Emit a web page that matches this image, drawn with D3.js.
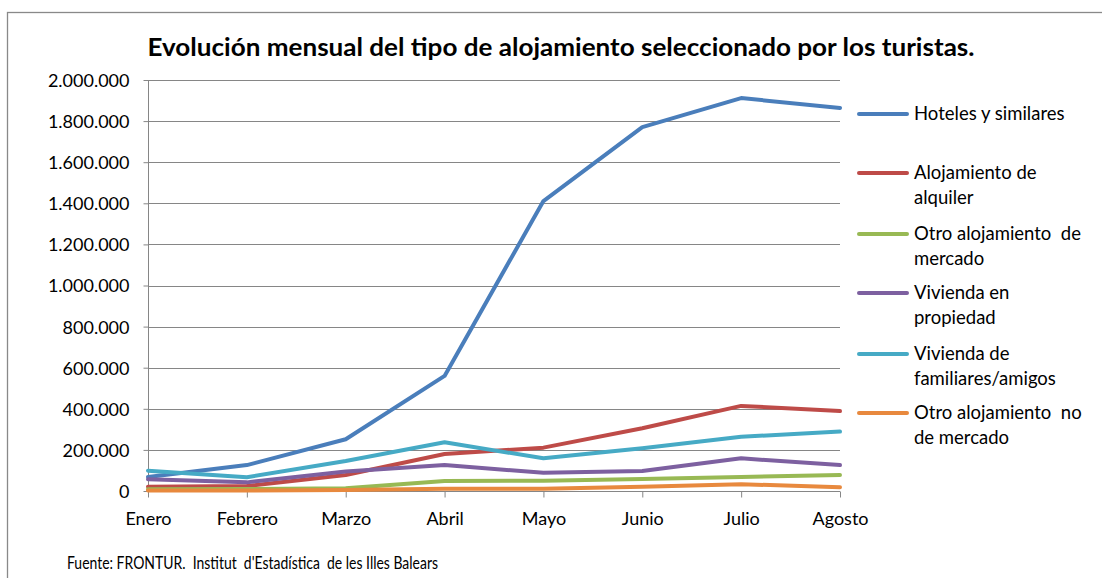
<!DOCTYPE html>
<html><head><meta charset="utf-8">
<script src="https://cdn.jsdelivr.net/npm/d3@7"></script>
<style>body{margin:0;background:#fff}svg{display:block}text{font-family:Lato,"Open Sans",sans-serif;fill:#000}</style>
</head><body><svg id="c" width="1102" height="578"></svg>
<script>
const months = ["Enero","Febrero","Marzo","Abril","Mayo","Junio","Julio","Agosto"];
const seriesNames = ["Hoteles y similares","Alojamiento de alquiler","Otro alojamiento  de mercado","Vivienda en propiedad","Vivienda de familiares/amigos","Otro alojamiento  no de mercado"];
const legendLines = [["Hoteles y similares"],["Alojamiento de","alquiler"],["Otro alojamiento  de","mercado"],["Vivienda en","propiedad"],["Vivienda de","familiares/amigos"],["Otro alojamiento  no","de mercado"]];
const hoteles   = [68000,126000,252000,560000,1411000,1771000,1912000,1864000];
const alquiler  = [21000,24000,78000,180000,211000,305000,414000,389000];
const otroMerc  = [8000,10000,13000,49000,50000,58000,68000,78000];
const propiedad = [57000,42000,95000,126000,89000,97000,159000,126000];
const familiares= [99000,67000,146000,237000,159000,208000,264000,289000];
const otroNoMerc= [2000,2000,5000,11000,11000,21000,33000,18000];
const yTicks = [0,200000,400000,600000,800000,1000000,1200000,1400000,1600000,1800000,2000000];
const colors = ["#4A7EBB","#BE4B48","#98B954","#7D60A0","#46AAC5","#E8893E"];
const allSeries = [hoteles,alquiler,otroMerc,propiedad,familiares,otroNoMerc];

const svg = d3.select("#c");
const L=148,R=840,T=80,B=491;
const x = d3.scalePoint().domain(months).range([L,R]);
const y = d3.scaleLinear().domain([0,2000000]).range([B,T]);
const fmt = v => d3.format(",")(v).replace(/,/g,".");

// outer border
svg.append("rect").attr("x",7.5).attr("y",12.5).attr("width",1110).attr("height",580)
  .attr("fill","none").attr("stroke","#898989").attr("stroke-width",1.3);

// gridlines
svg.append("g").selectAll("line").data(yTicks.slice(1)).join("line")
  .attr("x1",L).attr("x2",R).attr("y1",d=>Math.round(y(d))+0.5).attr("y2",d=>Math.round(y(d))+0.5)
  .attr("stroke","#868686").attr("stroke-width",1);

// y axis
const ya = svg.append("g").attr("transform",`translate(${L+0.5},0)`)
  .call(d3.axisLeft(y).tickValues(yTicks).tickFormat(fmt).tickSize(5).tickPadding(14));
ya.select(".domain").attr("stroke","#868686").attr("d",`M0,${T}V${B}`);
ya.selectAll(".tick line").attr("stroke","#868686");
ya.selectAll(".tick text").attr("font-size",18).attr("font-family","Lato").attr("dy","0.36em").attr("fill","#000");

// x axis
const xa = svg.append("g").attr("transform",`translate(0,${B+0.5})`)
  .call(d3.axisBottom(x).tickSize(6).tickPadding(15));
xa.select(".domain").attr("stroke","#868686").attr("d",`M${L},0H${R}`);
xa.selectAll(".tick line").attr("stroke","#868686");
xa.selectAll(".tick text").attr("font-size",18).attr("font-family","Lato").attr("fill","#000");

// lines
const line = d3.line().x((d,i)=>x(months[i])).y(d=>y(d));
allSeries.forEach((s,k)=>{
  svg.append("path").datum(s).attr("d",line).attr("fill","none")
    .attr("stroke",colors[k]).attr("stroke-width",4).attr("stroke-linejoin","round").attr("stroke-linecap","round");
});

// title
svg.append("text").attr("x",561).attr("y",56).attr("text-anchor","middle")
  .attr("font-size",25).attr("font-weight","bold")
  .attr("textLength",827).attr("lengthAdjust","spacingAndGlyphs")
  .text("Evolución mensual del tipo de alojamiento seleccionado por los turistas.");

// legend
const legY = [114,173,234,293,354,413];
const lg = svg.append("g");
legendLines.forEach((ls,k)=>{
  lg.append("line").attr("x1",859).attr("x2",907).attr("y1",legY[k]).attr("y2",legY[k])
    .attr("stroke",colors[k]).attr("stroke-width",4).attr("stroke-linecap","round");
  const t = lg.append("text").attr("x",914).attr("y",legY[k]+6).attr("font-size",18.5).style("white-space","pre");
  ls.forEach((s,j)=>t.append("tspan").attr("x",914).attr("dy",j?25:0).text(s));
});

// source
svg.append("text").attr("x",67).attr("y",569).attr("font-size",16.5).style("white-space","pre")
  .attr("textLength",371).attr("lengthAdjust","spacingAndGlyphs")
  .text("Fuente: FRONTUR.  Institut  d'Estadística  de les Illes Balears");
</script></body></html>
